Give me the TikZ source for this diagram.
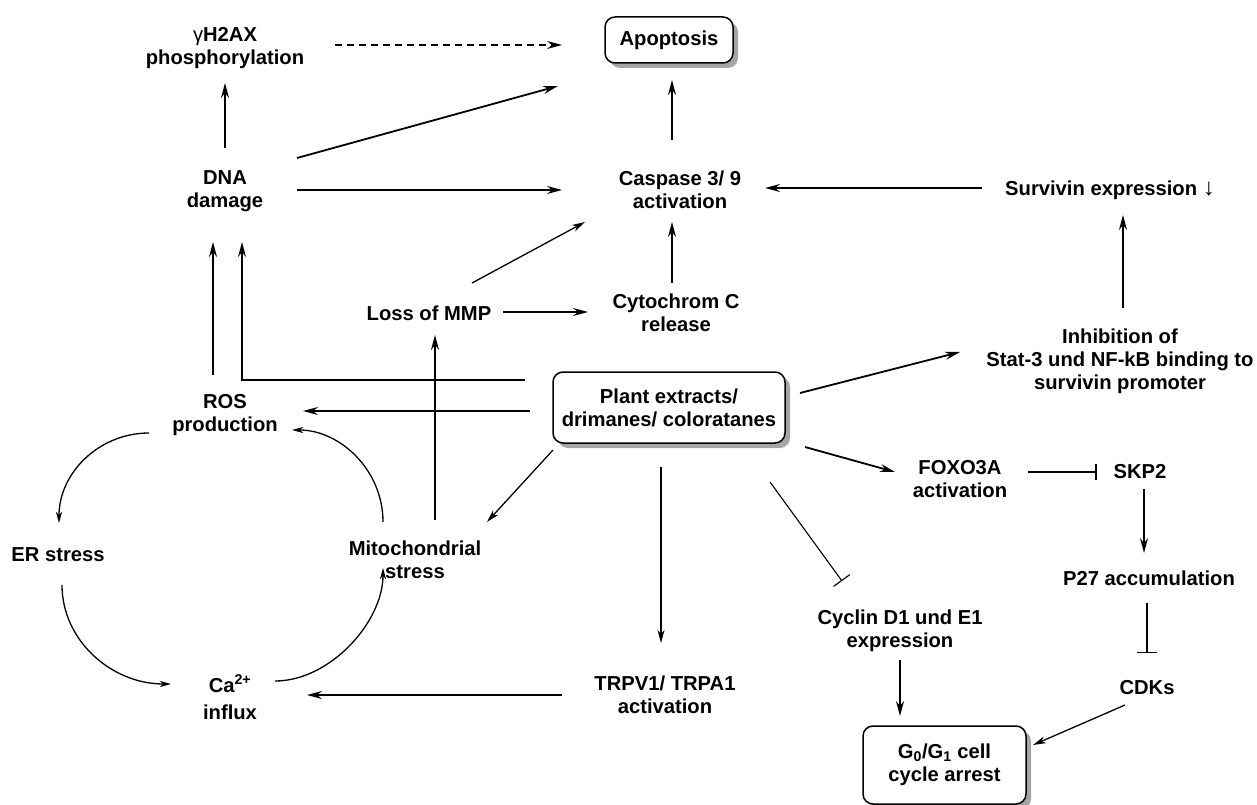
\documentclass[tikz,border=0pt]{standalone}
\usepackage{fontspec}
\setmainfont{Liberation Sans}
\usetikzlibrary{arrows.meta,calc,shadows}
\begin{document}
\begin{tikzpicture}[x=1pt,y=-1pt,
 lbl/.style={font=\fontsize{20.2}{23}\selectfont\bfseries, align=center, inner sep=0pt},
 boxnode/.style={lbl, draw, line width=1.5pt, rounded corners=10pt, fill=white,
   drop shadow={shadow xshift=5pt, shadow yshift=-5pt, fill=black!35, opacity=1}},
 arr/.style={line width=1.8pt, -{Stealth[length=15pt,width=8pt,inset=5pt]}},
 thinarr/.style={line width=1.3pt, -{Stealth[length=13pt,width=7pt,inset=4pt]}},
 curv/.style={line width=1.3pt, -{Stealth[length=11pt,width=6pt,inset=3pt]}},
 inhib/.style={line width=1.8pt, -{Bar[width=16pt,line width=1.8pt]}},
 thininhib/.style={line width=1.1pt, -{Bar[width=20pt,line width=1.1pt]}},
 dasharr/.style={line width=1.5pt, dash pattern=on 7pt off 5pt, -{Stealth[length=15pt,width=8pt,inset=5pt]}}]
\useasboundingbox (0,0) rectangle (1257,805);

% nodes
\node[lbl] (gam) at (225,48) {{\mdseries γ}H2AX\\phosphorylation};
\node[boxnode, minimum width=128pt, minimum height=46pt] (apo) at (669,40) {Apoptosis};
\node[lbl] (dna) at (225,191) {DNA\\damage};
\node[lbl] (casp) at (680,190) {Caspase 3/ 9\\activation};
\node[lbl] (surv) at (1110,190) {Survivin expression {\mdseries\fontsize{24}{23}\selectfont ↓}};
\node[lbl] (mmp) at (429,313) {Loss of MMP};
\node[lbl] (cyt) at (676,313) {Cytochrom C\\release};
\node[lbl] (inh) at (1120,361) {Inhibition of\\Stat-3 und NF-kB binding to\\survivin promoter};
\node[boxnode, minimum width=232pt, minimum height=71pt] (plant) at (669,407.5) {Plant extracts/\\drimanes/ coloratanes};
\node[lbl] (ros) at (225,415) {ROS\\production};
\node[lbl] (foxo) at (960,479) {FOXO3A\\activation};
\node[lbl] (skp) at (1140,472) {SKP2};
\node[lbl] (er) at (58,555) {ER stress};
\node[lbl] (mito) at (415,560) {Mitochondrial\\stress};
\node[lbl] (p27) at (1149,578) {P27 accumulation};
\node[lbl] (cyc) at (900,631) {Cyclin D1 und E1\\expression};
\node[lbl] (ca) at (230,697) {Ca\textsuperscript{2+}\\[4pt]influx};
\node[lbl] (trpv) at (665,695) {TRPV1/ TRPA1\\activation};
\node[lbl] (cdk) at (1147,688) {CDKs};
\node[boxnode, minimum width=163pt, minimum height=78pt] (g0) at (944.5,765) {G\textsubscript{0}/G\textsubscript{1} cell\\cycle arrest};

% connectors
\draw[dasharr] ($(gam)+(110,-3)$) -- ($(apo)+(-107,5)$);
\draw[arr] ($(dna)+(0,-43)$) -- ($(gam)+(0,35)$);
\draw[arr] ($(dna)+(72,-33)$) -- ($(apo)+(-111,46)$);
\draw[arr] ($(dna)+(72,-1)$) -- ($(casp)+(-118,0)$);
\draw[arr] ($(casp)+(-8,-50)$) -- ($(apo)+(3,40)$);
\draw[arr] ($(surv)+(-128,-2)$) -- ($(casp)+(85,-2)$);
\draw[arr] ($(inh)+(3,-53)$) -- ($(surv)+(13,25)$);
\draw[thinarr] ($(mmp)+(43,-30)$) -- ($(casp)+(-95,32)$);
\draw[arr] ($(mmp)+(74,-1)$) -- ($(cyt)+(-88,-1)$);
\draw[arr] ($(cyt)+(-4,-30)$) -- ($(casp)+(-8,32)$);
\draw[arr] ($(ros)+(-12,-40)$) -- ($(dna)+(-12,51)$);
\draw[arr] ($(plant)+(-144,-27.5)$) -| ($(dna)+(17,51)$);
\draw[arr] ($(plant)+(-139,3.5)$) -- ($(ros)+(78,-4)$);
\draw[thinarr] ($(plant)+(-116,42.5)$) -- ($(mito)+(72,-38)$);
\draw[arr] ($(mito)+(20,-40)$) -- ($(mmp)+(6,22)$);
\draw[thinarr] ($(plant)+(-8,59.5)$) -- ($(trpv)+(-4,-52)$);
\draw[thininhib] ($(plant)+(101,74.5)$) -- ($(cyc)+(-58,-50)$);
\draw[arr] ($(plant)+(136,39.5)$) -- ($(foxo)+(-65,-7)$);
\draw[arr] ($(plant)+(131,-14.5)$) -- ($(inh)+(-160,-9)$);
\draw[inhib] ($(foxo)+(68,-7)$) -- ($(skp)+(-43,0)$);
\draw[arr] ($(skp)+(4,17)$) -- ($(p27)+(-5,-25)$);
\draw[thininhib] ($(p27)+(-2,25)$) -- ($(cdk)+(0,-35)$);
\draw[thinarr] ($(cdk)+(-22,17)$) -- ($(g0)+(88.5,-20)$);
\draw[arr] ($(cyc)+(0,29)$) -- ($(g0)+(-44.5,-49)$);
\draw[arr] ($(trpv)+(-103,0)$) -- ($(ca)+(77,-2)$);

% cycle curves
\draw[curv] ($(ros)+(-76,18)$) .. controls ($(ros)+(-126,18)$) and ($(er)+(1,-82)$) .. ($(er)+(1,-32)$);
\draw[curv] ($(er)+(4,30)$) .. controls ($(er)+(4,85)$) and ($(ca)+(-119,-13)$) .. ($(ca)+(-59,-13)$);
\draw[curv] ($(ca)+(45,-16)$) .. controls ($(ca)+(100,-16)$) and ($(mito)+(-32,62)$) .. ($(mito)+(-32,8)$);
\draw[curv] ($(mito)+(-32,-38)$) .. controls ($(mito)+(-32,-90)$) and ($(ros)+(115,15)$) .. ($(ros)+(67,15)$);
\end{tikzpicture}
\end{document}
